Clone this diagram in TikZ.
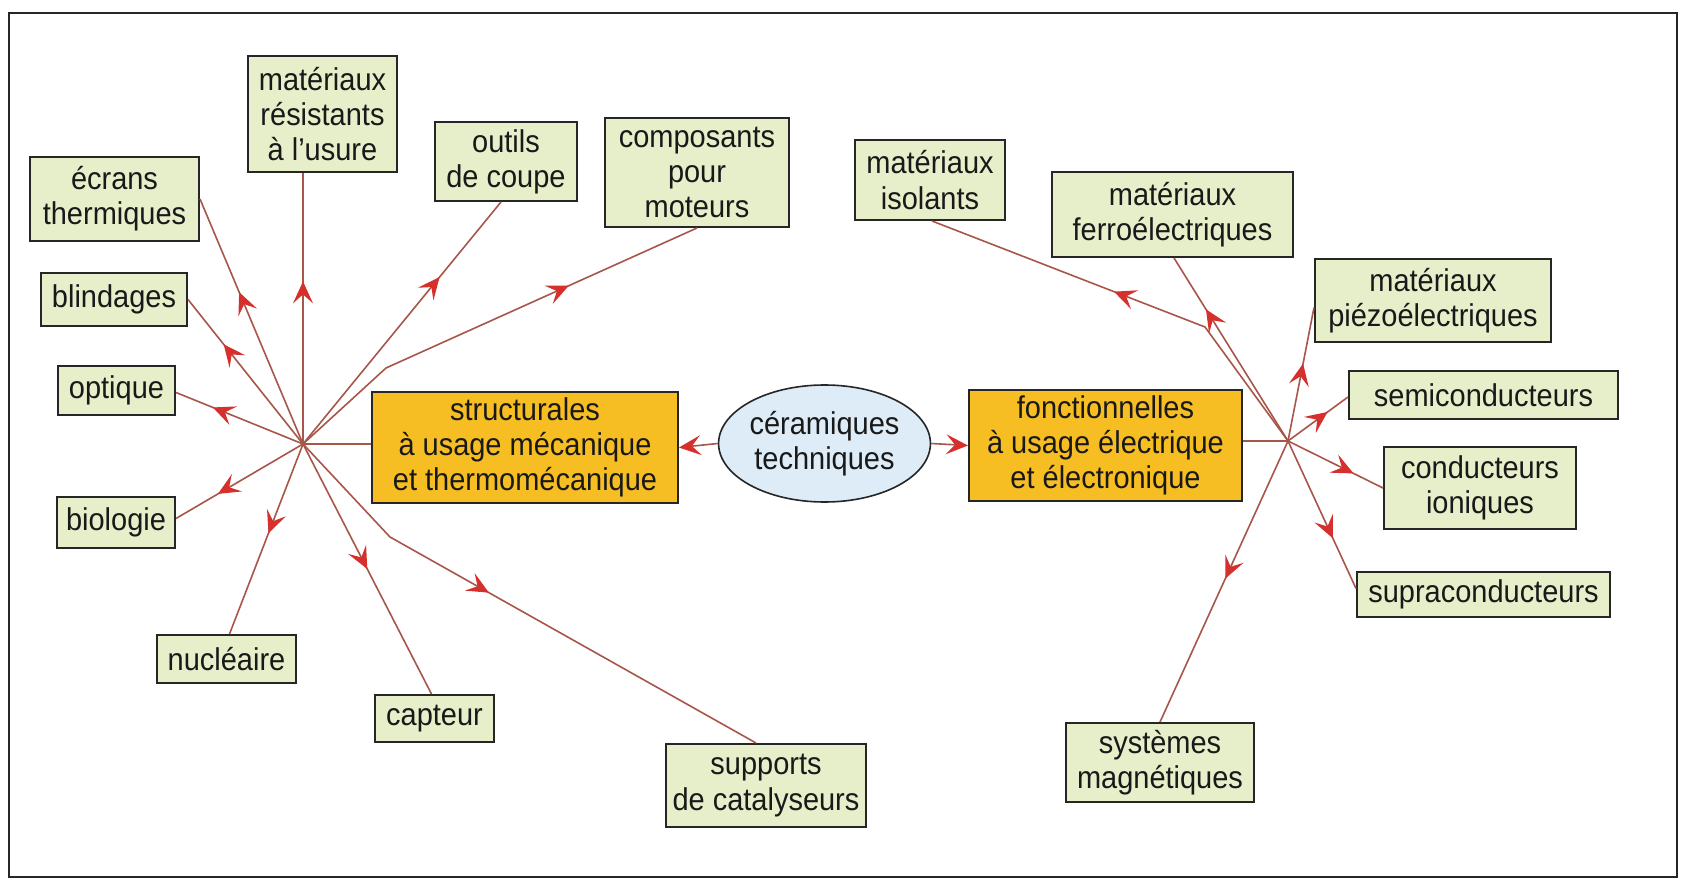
\documentclass[tikz,border=0pt]{standalone}
\usepackage{fontspec}
\setmainfont{Liberation Sans}[FakeStretch=0.92]
\usetikzlibrary{shapes.geometric,arrows.meta,decorations.markings,calc}
\definecolor{boxfill}{RGB}{231,238,202}
\definecolor{orfill}{RGB}{246,190,35}
\definecolor{elfill}{RGB}{221,236,247}
\definecolor{linkcol}{RGB}{168,86,74}
\definecolor{tipcol}{RGB}{214,48,44}
\definecolor{txt}{RGB}{25,25,25}
\begin{document}
\begin{tikzpicture}[x=1pt,y=-1pt,
 leaf/.style={draw=black!85, line width=2pt, fill=boxfill, align=center, inner sep=0pt, text=txt, font=\fontsize{31.5}{35.2}\selectfont},
 hubbox/.style={leaf, fill=orfill},
 link/.style={draw=linkcol, line width=1.6pt},
 tip/.style={-{Stealth[length=22pt,width=20pt,inset=9pt,color=tipcol]}},
 arr/.style={postaction={decorate}, decoration={markings, mark=at position #1 with {\arrow{Stealth[length=22pt,width=20pt,inset=9pt,fill=tipcol,color=tipcol]}}}},
 ]
\fill[white] (0,0) rectangle (1681,882);
\useasboundingbox (0,0) rectangle (1681,882);
\draw[line width=2.2pt, black!85] (9,13) rectangle (1677,877);

% central
\node[hubbox, minimum width=306pt, minimum height=111pt] (str) at (525,447.5) {structurales\\à usage mécanique\\et thermomécanique};
\node[leaf, ellipse, line width=1.6pt, fill=elfill, minimum width=205pt, minimum height=117pt] (cer) at (824.5,443.5) {céramiques\\techniques};
\node[hubbox, minimum width=273pt, minimum height=111pt] (fon) at (1105.5,445.5) {fonctionnelles\\à usage électrique\\et électronique};

% left leaves
\node[leaf, minimum width=149pt, minimum height=116pt] (res) at (322.5,114) {matériaux\\résistants\\à l’usure};
\node[leaf, minimum width=169pt, minimum height=84pt] (ecr) at (114.5,199) {écrans\\thermiques};
\node[leaf, minimum width=146pt, minimum height=53pt] (bli) at (114,299.5) {blindages};
\node[leaf, minimum width=117pt, minimum height=49pt] (opt) at (116.5,390.5) {optique};
\node[leaf, minimum width=118pt, minimum height=51pt] (bio) at (116,522.5) {biologie};
\node[leaf, minimum width=139pt, minimum height=48pt] (nuc) at (226.5,659) {nucléaire};
\node[leaf, minimum width=119pt, minimum height=47pt] (cap) at (434.5,718.5) {capteur};
\node[leaf, minimum width=200pt, minimum height=83pt] (sup) at (766,785.5) {supports\\de catalyseurs};
\node[leaf, minimum width=142pt, minimum height=79pt] (out) at (506,161.5) {outils\\de coupe};
\node[leaf, minimum width=184pt, minimum height=109pt] (com) at (697,172.5) {composants\\pour\\moteurs};

% right leaves
\node[leaf, minimum width=150pt, minimum height=80pt] (iso) at (930,180) {matériaux\\isolants};
\node[leaf, minimum width=241pt, minimum height=85pt] (fer) at (1172.5,214.5) {matériaux\\ferroélectriques};
\node[leaf, minimum width=236pt, minimum height=83pt] (pie) at (1433,300.5) {matériaux\\piézoélectriques};
\node[leaf, minimum width=269pt, minimum height=48pt] (sem) at (1483.5,395) {semiconducteurs};
\node[leaf, minimum width=192pt, minimum height=82pt] (con) at (1480,488) {conducteurs\\ioniques};
\node[leaf, minimum width=253pt, minimum height=45pt] (sra) at (1483.5,594.5) {supraconducteurs};
\node[leaf, minimum width=188pt, minimum height=79pt] (sys) at (1160,762.5) {systèmes\\magnétiques};

% hubs and bends
\coordinate (hubL) at (303,444);
\coordinate (hubR) at (1288,441);
\coordinate (kcom) at (386,368);
\coordinate (ksup) at (390,537);
\coordinate (kiso) at (1205,327);

% central connectors
\draw[link, tip] (cer.west) -- (str.east);
\draw[link, tip] (cer.east) -- (fon.west);
\draw[link] (str.west |- hubL) -- (hubL);
\draw[link] (fon.east |- hubR) -- (hubR);

% left fan
\draw[link, arr=0.60] (hubL) -- (res.south -| hubL);
\draw[link, arr=0.62] (hubL) -- (ecr.east);
\draw[link, arr=0.69] (hubL) -- (bli.east);
\draw[link, arr=0.71] (hubL) -- ([yshift=-2pt]opt.east);
\draw[link, arr=0.67] (hubL) -- ([yshift=4pt]bio.east);
\draw[link, arr=0.47] (hubL) -- ([xshift=3pt]nuc.north);
\draw[link, arr=0.50] (hubL) -- ([xshift=-3pt]cap.north);
\draw[link, arr=0.44] (hubL) -- (ksup) -- ([xshift=-10pt]sup.north);
\draw[link, arr=0.69] (hubL) -- ([xshift=-5pt]out.south);
\draw[link, arr=0.69] (hubL) -- (kcom) -- (com.south);

% right fan
\draw[link, arr=0.55] (hubR) -- (kiso) -- ([xshift=2pt]iso.south);
\draw[link, arr=0.72] (hubR) -- ([xshift=1.5pt]fer.south);
\draw[link, arr=0.58] (hubR) -- ([yshift=-7pt]pie.west);
\draw[link, arr=0.66] (hubR) -- ([yshift=-2pt]sem.west);
\draw[link, arr=0.69] (hubR) -- (con.west);
\draw[link, arr=0.66] (hubR) -- ([yshift=6pt]sra.west);
\draw[link, arr=0.49] (hubR) -- (sys.north);
\end{tikzpicture}
\end{document}
